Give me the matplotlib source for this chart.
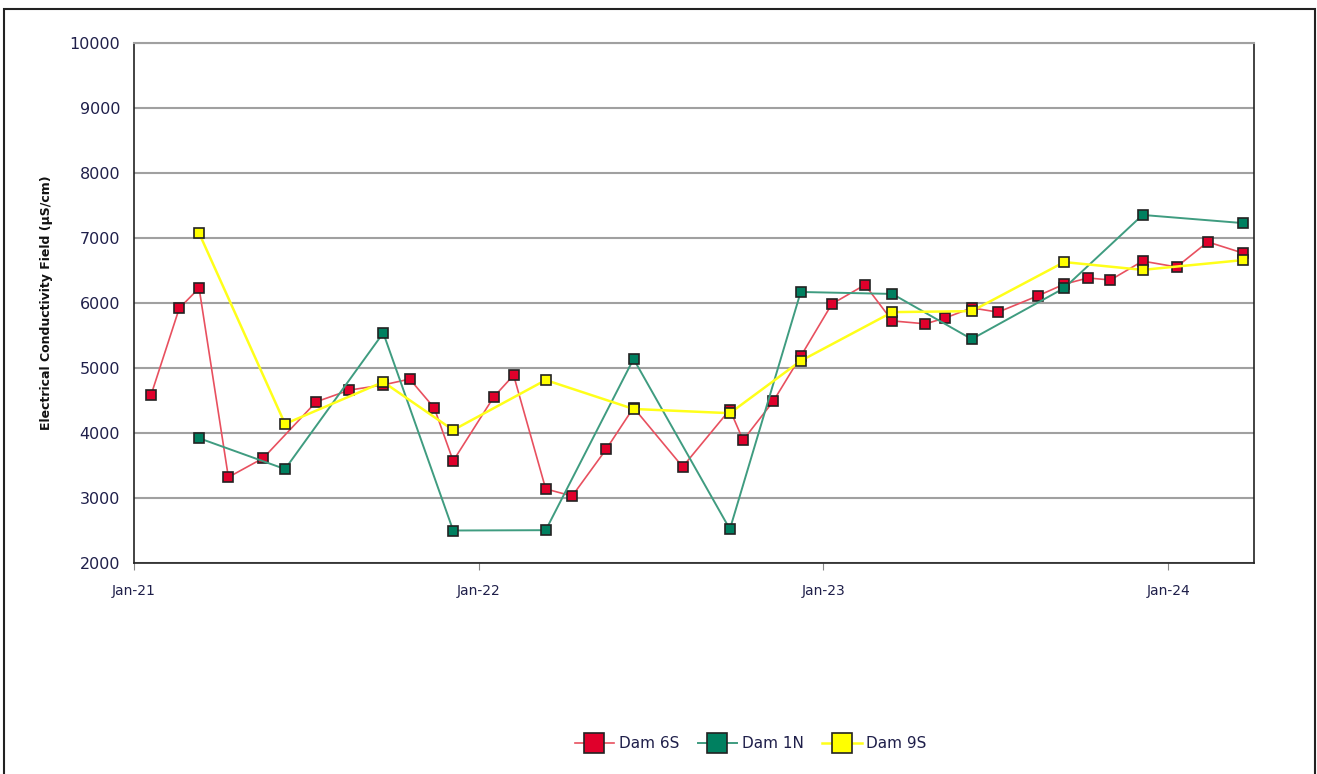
import pandas as pd
import matplotlib.pyplot as plt
import matplotlib.dates as mdates
from matplotlib.patches import Rectangle

# Dam 6S
dates_6s = ['2021-01-19', '2021-02-18', '2021-03-11', '2021-04-11', '2021-05-18', '2021-07-13',
            '2021-08-17', '2021-09-22', '2021-10-20', '2021-11-15', '2021-12-05', '2022-01-17',
            '2022-02-07', '2022-03-13', '2022-04-10', '2022-05-16', '2022-06-14', '2022-08-05',
            '2022-09-24', '2022-10-08', '2022-11-09', '2022-12-08', '2023-01-10', '2023-02-14',
            '2023-03-15', '2023-04-19', '2023-05-10', '2023-06-07', '2023-07-05', '2023-08-16',
            '2023-09-13', '2023-10-08', '2023-11-01', '2023-12-05', '2024-01-10', '2024-02-12',
            '2024-03-20']
ec_6s = [4580, 5920, 6230, 3320, 3615, 4480, 4660, 4740, 4830, 4385, 3570, 4555,
         4890, 3140, 3030, 3750, 4390, 3480, 4360, 3890, 4490, 5180, 5985, 6280,
         5725, 5680, 5770, 5925, 5860, 6110, 6290, 6385, 6355, 6645, 6555, 6940,
         6770]

# Dam 1N
dates_1n = ['2021-03-11', '2021-06-10', '2021-09-22', '2021-12-05', '2022-03-13', '2022-06-14',
            '2022-09-24', '2022-12-08', '2023-03-15', '2023-06-07', '2023-09-13', '2023-12-05',
            '2024-03-20']
ec_1n = [3920, 3445, 5540, 2500, 2505, 5140, 2520, 6170, 6140, 5445, 6230, 7355, 7230]

# Dam 9S
dates_9s = dates_1n
ec_9s = [7075, 4140, 4785, 4045, 4815, 4370, 4305, 5110, 5860, 5875, 6630, 6510, 6660]

txt_col = '#1F1F4A'

fig = plt.figure(figsize=(13.17, 7.74), dpi=100)
ax = fig.add_axes([0.1017, 0.2726, 0.8505, 0.6718])

series = [
    (dates_6s, ec_6s, 'Dam 6S', '#E8505F', '#E0002B', 1.2),
    (dates_1n, ec_1n, 'Dam 1N', '#3F9C80', '#008060', 1.4),
    (dates_9s, ec_9s, 'Dam 9S', '#FFFF1A', '#FFFF00', 1.8),
]
for d, v, name, lc, mc, lw in series:
    ax.plot(pd.to_datetime(d), v, color=lc, lw=lw, marker='s', markersize=7.5,
            markerfacecolor=mc, markeredgecolor='#222222', markeredgewidth=1.2,
            label=name, zorder=3)

ax.set_ylim(2000, 10000)
ax.set_yticks(range(2000, 10001, 1000))
ax.set_xlim(pd.Timestamp('2021-01-01'), pd.Timestamp('2024-04-01'))
ax.set_xticks(pd.to_datetime(['2021-01-01', '2022-01-01', '2023-01-01', '2024-01-01']))
ax.xaxis.set_major_formatter(mdates.DateFormatter('%b-%y'))

ax.grid(axis='y', color='#A0A0A0', lw=1.5, zorder=0)
ax.tick_params(axis='y', length=0, labelsize=11.5, labelcolor=txt_col, pad=10)
ax.tick_params(axis='x', length=5, color='#888888', labelsize=10, labelcolor=txt_col, pad=10)
for s in ['left', 'bottom', 'right']:
    ax.spines[s].set_color('#222222')
    ax.spines[s].set_linewidth(1.2)
ax.spines['top'].set_color('#A0A0A0')
ax.spines['top'].set_linewidth(1.5)

ax.set_ylabel('Electrical Conductivity Field (µS/cm)', fontsize=9, fontweight='bold',
              color='#111111', labelpad=12)

leg = fig.legend(loc='center', bbox_to_anchor=(0.57, 0.039), ncol=3, frameon=False,
                 fontsize=11, handlelength=2.6, columnspacing=1.2, handletextpad=0.3,
                 markerscale=1.9)
for t in leg.get_texts():
    t.set_color(txt_col)

fig.patches.append(Rectangle((0.003, -0.01), 0.9955, 0.998, transform=fig.transFigure,
                             fill=False, edgecolor='#222222', lw=1.5))

plt.savefig('out.png', dpi=100)
